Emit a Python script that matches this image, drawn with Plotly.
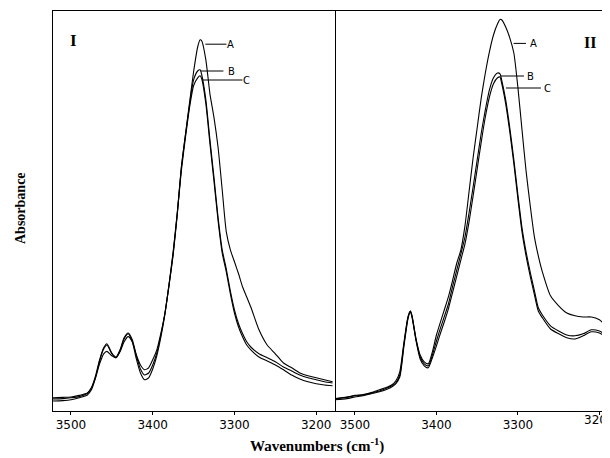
import plotly.graph_objects as go

# ---------------- data (wavenumber in cm^-1, absorbance in arbitrary units) ----------------
wn_I = [3524, 3510, 3500, 3490, 3480, 3475, 3470, 3465, 3460, 3456,
        3450, 3445, 3440, 3435, 3430, 3425, 3420, 3415, 3410, 3405,
        3400, 3395, 3390, 3385, 3380, 3375, 3370, 3365, 3360, 3355,
        3350, 3345, 3342, 3340, 3335, 3330, 3325, 3320, 3315, 3310,
        3305, 3300, 3295, 3290, 3285, 3280, 3270, 3260, 3250, 3240,
        3230, 3220, 3210, 3200, 3190, 3180]

abs_I_A = [0.0325, 0.034, 0.035, 0.039, 0.045, 0.058, 0.083, 0.118, 0.143, 0.149,
           0.138, 0.133, 0.148, 0.173, 0.186, 0.173, 0.140, 0.115, 0.103, 0.108,
           0.128, 0.153, 0.195, 0.245, 0.315, 0.390, 0.490, 0.608, 0.690, 0.770,
           0.848, 0.910, 0.928, 0.925, 0.878, 0.793, 0.733, 0.658, 0.553, 0.448,
           0.403, 0.373, 0.343, 0.310, 0.285, 0.260, 0.203, 0.165, 0.143, 0.120,
           0.108, 0.095, 0.088, 0.083, 0.078, 0.073]

abs_I_B = [0.030, 0.031, 0.033, 0.036, 0.044, 0.058, 0.088, 0.128, 0.158, 0.168,
           0.145, 0.135, 0.153, 0.183, 0.195, 0.178, 0.138, 0.105, 0.090, 0.095,
           0.115, 0.145, 0.190, 0.245, 0.318, 0.398, 0.495, 0.608, 0.690, 0.765,
           0.828, 0.850, 0.853, 0.840, 0.778, 0.678, 0.583, 0.483, 0.403, 0.355,
           0.300, 0.253, 0.218, 0.193, 0.173, 0.160, 0.143, 0.133, 0.123, 0.110,
           0.100, 0.090, 0.083, 0.078, 0.073, 0.070]

abs_I_C = [0.025, 0.026, 0.028, 0.033, 0.040, 0.053, 0.083, 0.125, 0.155, 0.165,
           0.143, 0.133, 0.150, 0.180, 0.193, 0.173, 0.130, 0.095, 0.078, 0.083,
           0.105, 0.138, 0.185, 0.243, 0.315, 0.395, 0.493, 0.600, 0.683, 0.758,
           0.813, 0.833, 0.838, 0.830, 0.768, 0.668, 0.573, 0.475, 0.395, 0.348,
           0.293, 0.245, 0.210, 0.185, 0.165, 0.153, 0.135, 0.125, 0.115, 0.103,
           0.090, 0.080, 0.073, 0.068, 0.065, 0.063]

wn_II = [3526, 3510, 3500, 3490, 3480, 3470, 3460, 3455, 3450, 3445,
         3440, 3435, 3432, 3430, 3425, 3420, 3415, 3410, 3405, 3400,
         3395, 3390, 3385, 3380, 3375, 3370, 3365, 3360, 3355, 3350,
         3345, 3340, 3335, 3330, 3325, 3322, 3320, 3315, 3310, 3305,
         3300, 3295, 3290, 3285, 3280, 3275, 3270, 3260, 3250, 3240,
         3230, 3220, 3210, 3200, 3190, 3184]

abs_II_A = [0.031, 0.035, 0.039, 0.041, 0.046, 0.053, 0.060, 0.065, 0.075, 0.098,
            0.170, 0.235, 0.250, 0.238, 0.180, 0.140, 0.123, 0.118, 0.148, 0.190,
            0.223, 0.255, 0.288, 0.328, 0.370, 0.403, 0.463, 0.548, 0.633, 0.708,
            0.783, 0.845, 0.898, 0.940, 0.968, 0.979, 0.978, 0.960, 0.933, 0.895,
            0.808, 0.703, 0.600, 0.515, 0.438, 0.388, 0.348, 0.288, 0.263, 0.245,
            0.238, 0.235, 0.235, 0.228, 0.210, 0.203]

abs_II_B = [0.030, 0.034, 0.038, 0.040, 0.045, 0.050, 0.058, 0.063, 0.070, 0.090,
            0.165, 0.233, 0.250, 0.238, 0.178, 0.135, 0.118, 0.113, 0.140, 0.175,
            0.208, 0.238, 0.270, 0.313, 0.353, 0.393, 0.435, 0.495, 0.560, 0.628,
            0.695, 0.753, 0.803, 0.833, 0.845, 0.843, 0.828, 0.778, 0.708, 0.628,
            0.540, 0.458, 0.398, 0.348, 0.303, 0.258, 0.240, 0.213, 0.200, 0.190,
            0.188, 0.193, 0.203, 0.200, 0.188, 0.183]

abs_II_C = [0.028, 0.031, 0.035, 0.038, 0.043, 0.048, 0.055, 0.060, 0.068, 0.085,
            0.160, 0.230, 0.248, 0.235, 0.175, 0.130, 0.113, 0.108, 0.133, 0.163,
            0.195, 0.225, 0.258, 0.298, 0.338, 0.378, 0.418, 0.473, 0.538, 0.605,
            0.673, 0.735, 0.785, 0.818, 0.833, 0.835, 0.820, 0.768, 0.698, 0.618,
            0.530, 0.448, 0.388, 0.338, 0.293, 0.250, 0.233, 0.205, 0.193, 0.183,
            0.180, 0.188, 0.198, 0.195, 0.183, 0.178]

tick_vals = [3500, 3400, 3300, 3200]
tick_text = ["3500", "3400", "3300", "3200"]
series_names = ["A", "B", "C"]

# ---------------- figure ----------------
fig = go.Figure()
line_style = dict(color="black", width=1.1, shape="spline", smoothing=0.6)

for name, ys in zip(series_names, [abs_I_A, abs_I_B, abs_I_C]):
    fig.add_trace(go.Scatter(x=wn_I, y=ys, mode="lines", name=name, line=line_style,
                             xaxis="x", yaxis="y", showlegend=False, hoverinfo="skip"))
for name, ys in zip(series_names, [abs_II_A, abs_II_B, abs_II_C]):
    fig.add_trace(go.Scatter(x=wn_II, y=ys, mode="lines", name=name, line=line_style,
                             xaxis="x2", yaxis="y2", showlegend=False, hoverinfo="skip"))

split = (335 - 53) / 557
tick_font = dict(family="DejaVu Sans", size=12, color="black")
axis_common = dict(showline=True, linecolor="black", linewidth=1, mirror=True,
                   ticks="outside", ticklen=3, tickcolor="black",
                   tickfont=tick_font, showgrid=False, zeroline=False)

# the page body has an 8px margin, so the figure is 8px smaller and margins shifted
fig.update_layout(
    width=602, height=450,
    margin=dict(l=45, r=0, t=3, b=47),
    paper_bgcolor="white", plot_bgcolor="white",
    xaxis=dict(domain=[0, split], range=[3522, 3177], anchor="y",
               tickvals=tick_vals, ticktext=tick_text, **axis_common),
    xaxis2=dict(domain=[split, 1], range=[3524.5, 3187], anchor="y2",
                tickvals=tick_vals, ticktext=tick_text[:-1] + [""], **axis_common),
    yaxis=dict(range=[0, 1], showline=True, linecolor="black", linewidth=1, mirror=True,
               showticklabels=False, ticks="", showgrid=False, zeroline=False),
    yaxis2=dict(range=[0, 1], anchor="x2", showline=False, showticklabels=False,
                ticks="", showgrid=False, zeroline=False),
)

# last tick label of panel II runs off the page edge, as in the original
fig.add_annotation(xref="x2", yref="paper", x=tick_vals[-1], y=(411 - 420) / 400,
                   text=tick_text[-1], showarrow=False, xanchor="center",
                   yanchor="middle", font=tick_font)

# leader lines and letters
labels_I = [("A", 3335.6, 3309.8, 0.917, 3304.9),
            ("B", 3341.7, 3313.5, 0.850, 3303.7),
            ("C", 3339.3, 3290.2, 0.8275, 3285.3)]
labels_II = [("A", 3305.3, 3290.2, 0.919, 3280.7),
             ("B", 3320.9, 3292.6, 0.8375, 3284.0),
             ("C", 3314.7, 3271.8, 0.8075, 3263.6)]
for xr, yr, labs in [("x", "y", labels_I), ("x2", "y2", labels_II)]:
    for txt, x0, x1, yv, xt in labs:
        fig.add_shape(type="line", xref=xr, yref=yr, x0=x0, x1=x1, y0=yv, y1=yv,
                      line=dict(color="black", width=1))
        fig.add_annotation(xref=xr, yref=yr, x=xt, y=yv, text=txt, showarrow=False,
                           xanchor="center", yanchor="middle",
                           font=dict(family="DejaVu Sans", size=10, color="black"))

serif = "Liberation Serif"
fig.add_annotation(xref="paper", yref="paper", x=(73 - 53) / 557, y=(411 - 40) / 400,
                   text="<b>I</b>", showarrow=False, xanchor="center", yanchor="middle",
                   font=dict(family=serif, size=17, color="black"))
fig.add_annotation(xref="paper", yref="paper", x=(590 - 53) / 557, y=(411 - 42) / 400,
                   text="<b>II</b>", showarrow=False, xanchor="center", yanchor="middle",
                   font=dict(family=serif, size=16, color="black"))
fig.add_annotation(xref="paper", yref="paper", x=(20 - 53) / 557, y=(411 - 208) / 400,
                   text="<b>Absorbance</b>", showarrow=False, textangle=-90,
                   xanchor="center", yanchor="middle",
                   font=dict(family=serif, size=14, color="black"))
fig.add_annotation(xref="paper", yref="paper", x=(317 - 53) / 557, y=(411 - 446) / 400,
                   text="<b>Wavenumbers (cm<sup>-1</sup>)</b>", showarrow=False,
                   xanchor="center", yanchor="middle",
                   font=dict(family=serif, size=15, color="black"))

fig.write_html("out.html")
